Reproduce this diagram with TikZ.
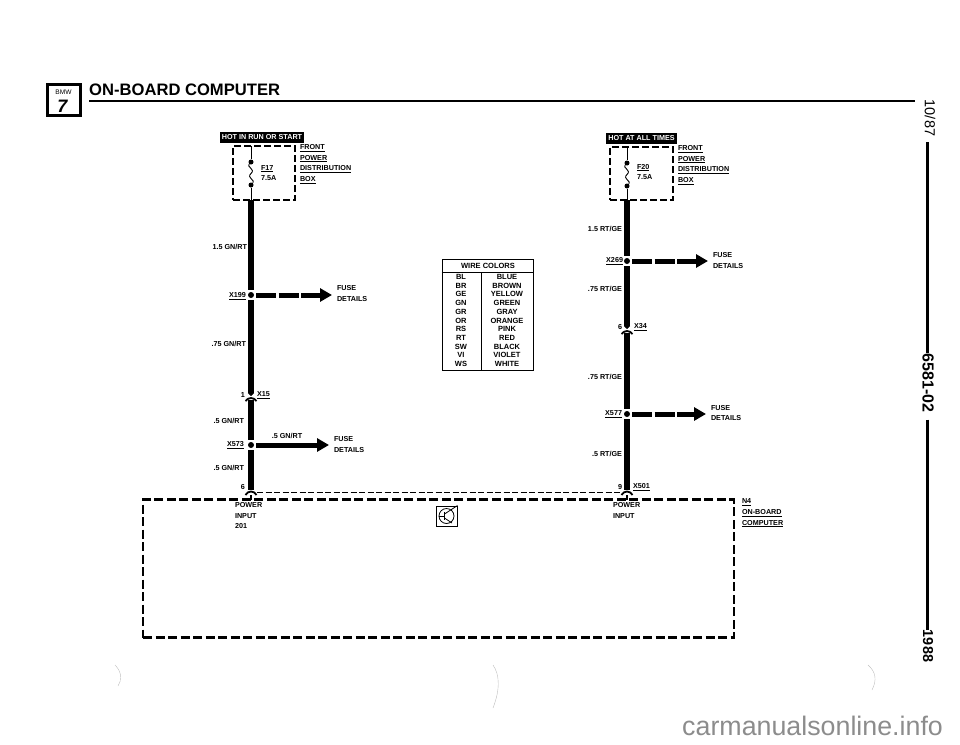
\documentclass[tikz,border=0pt]{standalone}
\usepackage{fontspec}
\setmainfont{Liberation Sans}
\usetikzlibrary{arrows.meta}

\begin{document}
\begin{tikzpicture}[x=1pt,y=-1pt]
    \tikzstyle{txt} = [font=\bfseries\fontsize{7.2}{10.7}\selectfont,inner sep=0pt,outer sep=0pt,align=left]
    \tikzstyle{wirelab} = [txt,anchor=east]
    \tikzstyle{sidelab} = [txt,anchor=west]
    \tikzstyle{tabtxt} = [txt,font=\bfseries\fontsize{7.5}{9}\selectfont,align=center]
    \tikzstyle{hotlab} = [txt,fill=black,text=white,inner xsep=2pt,minimum height=11pt,align=center]
    \tikzstyle{boxline} = [draw,line width=1.9pt,dash pattern=on 7pt off 3pt,inner sep=0pt,outer sep=0pt]
    \tikzstyle{eculine} = [draw,line width=2.2pt,dash pattern=on 9pt off 3.5pt,inner sep=0pt,outer sep=0pt]
    \tikzstyle{wire} = [line width=5.4pt]
    \tikzstyle{feed} = [line width=5pt,dash pattern=on 20pt off 2.5pt,shorten >=5pt,-{Triangle[length=12pt,width=13pt]}]
    \tikzstyle{feedsolid} = [line width=5pt,shorten >=5pt,-{Triangle[length=12pt,width=13pt]}]
    \tikzstyle{splice} = [circle,fill=black,minimum size=6pt,inner sep=0pt,outer sep=2pt]
    \tikzstyle{fusedot} = [circle,fill=black,minimum size=5pt,inner sep=0pt]
    \tikzstyle{conntip} = [line width=5.4pt,-{Triangle[length=3pt,width=6pt]}]
    \tikzstyle{chevron} = [line width=1.8pt]
    \tikzstyle{fuseline} = [line width=0.9pt]
    \tikzstyle{speck} = [black!25,line width=0.4pt]
    \tikzstyle{sidetxt} = [inner sep=0pt,rotate=-90,anchor=center]
        \useasboundingbox (0,0) rectangle (960,744);
        \node[rectangle,draw,line width=3pt,minimum width=33pt,minimum height=31pt,inner sep=0pt] (logo) at (63.5,99.5) {};
        \node[inner sep=0pt,font=\fontsize{6.6}{8}\selectfont] (logobmw) at (63.5,92) {BMW};
        \node[inner sep=0pt,font=\bfseries\itshape\fontsize{18}{18}\selectfont] (logosvn) at (62.5,106.5) {7};
        \node[anchor=west,inner sep=0pt,font=\bfseries\fontsize{16.6}{18}\selectfont] (title) at (89,90) {ON-BOARD COMPUTER};
        \coordinate (rulea) at (89,101);
        \coordinate (ruleb) at (915,101);
        \draw[line width=2.4pt] (rulea) -- (ruleb);
        \node[sidetxt,font=\fontsize{14.5}{16}\selectfont] (date) at (930,118) {10/87};
        \node[sidetxt,font=\bfseries\fontsize{16}{18}\selectfont] (docnum) at (928,383) {6581-02};
        \node[sidetxt,font=\bfseries\fontsize{14.4}{16}\selectfont] (year) at (928,646) {1988};
        \draw[line width=2.2pt] (date.east -| 927.5,0) ++(0,6) -- (docnum.west -| 927.5,0);
        \draw[line width=2.2pt] (docnum.east -| 927.5,0) ++(0,7) -- (year.west -| 927.5,0);

        \node[hotlab,minimum width=82pt] (hotl) at (262,137.5) {HOT IN RUN OR START};
        \node[boxline,minimum width=62pt,minimum height=54pt] (boxl) at (264,173) {};
        \node[sidelab] (frontl) at (300,164) {\underline{FRONT}\\\underline{POWER}\\\underline{DISTRIBUTION}\\\underline{BOX}};
        \node[fusedot] (f17a) at (251,162) {};
        \node[fusedot] (f17b) at (251,185) {};
        \node[sidelab] (f17) at (261,173) {\underline{F17}\\7.5A};
        \draw[fuseline] (boxl.north -| f17a) -- (f17a);
        \draw[fuseline] (f17a) .. controls (246,167) and (256,169) .. (251,173.5) .. controls (246,178) and (256,180) .. (f17b);
        \draw[fuseline] (f17b) -- (boxl.south -| f17b);
        \node[splice] (x199) at (251,295) {};
        \node[wirelab] (x199t) at (246,296) {\underline{X199}};
        \draw[wire] (boxl.south -| x199) -- (x199);
        \node[wirelab] (wl1) at (247,247) {1.5 GN/RT};
        \node[sidelab] (fuse1) at (337,293.5) {FUSE\\DETAILS};
        \draw[feed] (x199) -- (x199 -| fuse1.west);
        \node[wirelab] (wl2) at (246,344) {.75 GN/RT};
        \coordinate (x15a) at (251,396);
        \coordinate (x15b) at (251,398);
        \coordinate (x15c) at (251,400);
        \node[wirelab] (x15n) at (245,395) {1};
        \node[sidelab] (x15) at (257,395) {\underline{X15}};
        \draw[conntip] (x199) -- (x15a);
        \draw[chevron] (245.5,401) .. controls (248,398.5) .. (x15b) .. controls (254,398.5) .. (256.5,401);
        \node[splice] (x573) at (251,445) {};
        \node[wirelab] (x573t) at (244,445) {\underline{X573}};
        \draw[wire] (x15c) -- (x573);
        \node[wirelab] (wl3) at (244,421) {.5 GN/RT};
        \node[txt] (wl4) at (287,436) {.5 GN/RT};
        \node[sidelab] (fuse2) at (334,444.5) {FUSE\\DETAILS};
        \draw[feedsolid] (x573) -- (x573 -| fuse2.west);
        \node[wirelab] (wl5) at (244,468) {.5 GN/RT};
        \node[wirelab] (pin6) at (245,487) {6};
        \coordinate (c6a) at (251,490);
        \coordinate (c6b) at (251,491.5);
        \coordinate (c6c) at (251,495);
        \draw[wire] (x573) -- (c6a);
        \draw[chevron] (245.5,495) .. controls (248,492) .. (c6b) .. controls (254,492) .. (256.5,495);
        \node[txt,anchor=north west] (pwrl) at (235,502.5) {POWER\\INPUT\\201};

        \node[hotlab,minimum width=69pt] (hotr) at (641.5,138) {HOT AT ALL TIMES};
        \node[boxline,minimum width=63pt,minimum height=53pt] (boxr) at (641.5,173.5) {};
        \node[sidelab] (frontr) at (678,165) {\underline{FRONT}\\\underline{POWER}\\\underline{DISTRIBUTION}\\\underline{BOX}};
        \node[fusedot] (f20a) at (627,163) {};
        \node[fusedot] (f20b) at (627,186) {};
        \node[sidelab] (f20) at (637,172) {\underline{F20}\\7.5A};
        \draw[fuseline] (boxr.north -| f20a) -- (f20a);
        \draw[fuseline] (f20a) .. controls (622,168) and (632,170) .. (627,174.5) .. controls (622,179) and (632,181) .. (f20b);
        \draw[fuseline] (f20b) -- (boxr.south -| f20b);
        \node[splice] (x269) at (627,261) {};
        \node[wirelab] (x269t) at (623,261) {\underline{X269}};
        \draw[wire] (boxr.south -| x269) -- (x269);
        \node[wirelab] (wr1) at (622,229) {1.5 RT/GE};
        \node[sidelab] (fuse3) at (713,260.5) {FUSE\\DETAILS};
        \draw[feed] (x269) -- (x269 -| fuse3.west);
        \node[wirelab] (wr2) at (622,289) {.75 RT/GE};
        \coordinate (x34a) at (627,329);
        \coordinate (x34b) at (627,331);
        \coordinate (x34c) at (627,333);
        \node[wirelab] (x34n) at (622,327) {6};
        \node[sidelab] (x34) at (634,327) {\underline{X34}};
        \draw[conntip] (x269) -- (x34a);
        \draw[chevron] (621.5,334) .. controls (624,331.5) .. (x34b) .. controls (630,331.5) .. (632.5,334);
        \node[splice] (x577) at (627,414) {};
        \node[wirelab] (x577t) at (622,414) {\underline{X577}};
        \draw[wire] (x34c) -- (x577);
        \node[wirelab] (wr3) at (622,377) {.75 RT/GE};
        \node[sidelab] (fuse4) at (711,413) {FUSE\\DETAILS};
        \draw[feed] (x577) -- (x577 -| fuse4.west);
        \node[wirelab] (wr4) at (622,454) {.5 RT/GE};
        \node[wirelab] (pin9) at (622,487) {9};
        \node[sidelab] (x501) at (633,487) {\underline{X501}};
        \coordinate (c9a) at (627,490);
        \coordinate (c9b) at (627,491.5);
        \coordinate (c9c) at (627,495);
        \draw[wire] (x577) -- (c9a);
        \draw[chevron] (621.5,495) .. controls (624,492) .. (c9b) .. controls (630,492) .. (632.5,495);
        \node[txt,anchor=north west] (pwrr) at (613,502.5) {POWER\\INPUT};

        \node[eculine,minimum width=591pt,minimum height=138pt] (ecu) at (438.5,568.5) {};
        \draw[line width=1.5pt] (c6c) -- (c6c |- ecu.north);
        \draw[line width=1.5pt] (c9c) -- (c9c |- ecu.north);
        \draw[line width=0.9pt,dash pattern=on 6pt off 2.5pt] (257,492) -- (620,492);
        \node[sidelab] (n4) at (742,513) {\underline{N4}\\\underline{ON-BOARD}\\\underline{COMPUTER}};

        \node[rectangle,draw,line width=0.9pt,minimum width=21pt,minimum height=20pt,inner sep=0pt] (sym) at (446.5,516) {};
        \node[circle,draw,line width=0.8pt,minimum size=15pt,inner sep=0pt] (symc) at (446.5,516) {};
        \draw[line width=0.8pt] (symc.west) -- (444.5,516);
        \draw[line width=1.1pt] (444.5,512) -- (444.5,520);
        \draw[line width=0.8pt] (444.5,514) -- (sym.north east);
        \draw[line width=0.8pt] (444.5,518) -- (452,523);

        \node[rectangle,draw,line width=0.8pt,minimum width=91pt,minimum height=111pt,inner sep=0pt] (wiretab) at (487.5,314.5) {};
        \node[tabtxt] (tabhead) at (488,265.5) {WIRE COLORS};
        \draw[line width=0.8pt] (wiretab.west |- 0,272) -- (wiretab.east |- 0,272);
        \draw[line width=0.8pt] (481,272) -- (wiretab.south -| 481,0);
        \foreach \a/\b [count=\i] in {BL/BLUE,BR/BROWN,GE/YELLOW,GN/GREEN,GR/GRAY,OR/ORANGE,RS/PINK,RT/RED,SW/BLACK,VI/VIOLET,WS/WHITE} {
            \node[tabtxt] (code\i) at (461,268.3+8.7*\i) {\a};
            \node[tabtxt] (name\i) at (507,268.3+8.7*\i) {\b};
        }

        \node[anchor=base west,inner sep=0pt,text=black!45,font=\fontsize{26.8}{28}\selectfont] (site) at (682,735) {carmanualsonline.info};
        \draw[speck] (115,665) .. controls (122,672) and (122,680) .. (118,686);
        \draw[speck] (493,665) .. controls (500,675) and (500,690) .. (493,708);
        \draw[speck] (868,665) .. controls (876,672) and (877,680) .. (872,690);
    \end{tikzpicture}
\end{document}
